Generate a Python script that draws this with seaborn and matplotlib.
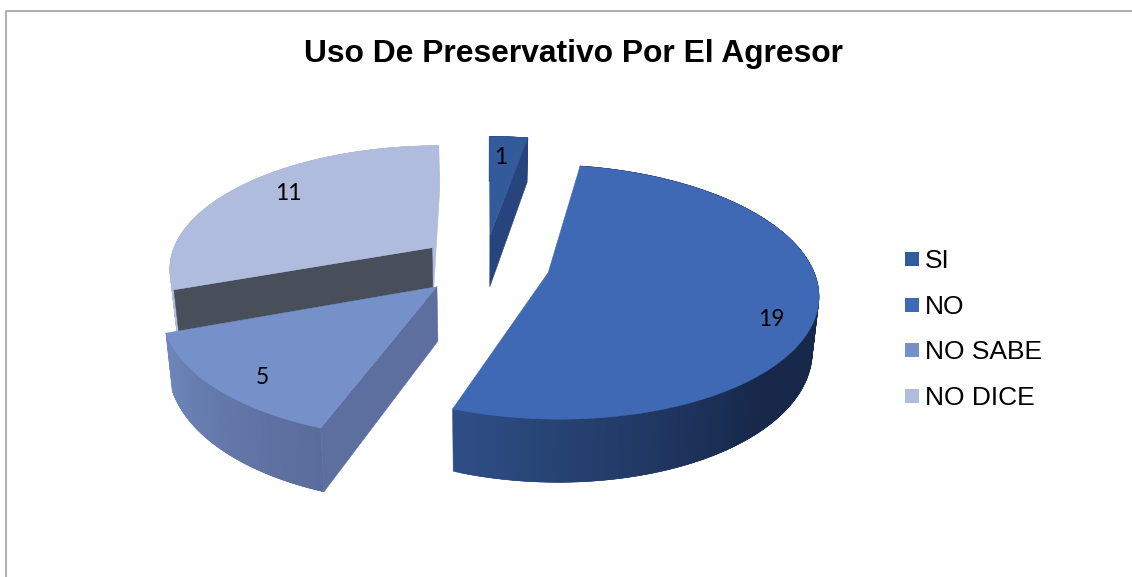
import numpy as np
import seaborn as sns
import matplotlib.pyplot as plt
from matplotlib.patches import Polygon, Rectangle

categorias = ['SI', 'NO', 'NO SABE', 'NO DICE']
valores = [1, 19, 5, 11]

colores_cara = ['#335A9B', '#3F68B5', '#7690CA', '#B0BCDD']
# Tramos del degradado de la pared exterior, en sentido horario
paredes = [['#27457C', '#27457C'],
           ['#17284A', '#17284A', '#17284A', '#2E4F87'],
           ['#5A6C9B', '#6E87BC'],
           ['#B0BCDD', '#B0BCDD']]
# Caras de corte que se ven: (0 = borde inicial, 1 = borde final, color)
cortes = [[(1, '#27457C')],
          [],
          [(0, '#5C6F9E')],
          [(1, '#B0BCDD'), (0, '#484E5A')]]

# Geometria de la torta en pixeles
cx, cy = 484.4, 264.7
rx, ry = 263.5, 122.0
k = 0.15
sep = 0.248
prof = 53.0
fondo = 0.98


def proyectar(u, v, abajo=False):
    w = 1 + k * v
    x = rx * u / w
    y = -ry * v / w
    if abajo:
        return cx + x * fondo, cy + y + prof / w
    return cx + x, cy + y


sns.set_theme(style='white')
plt.rcParams['font.family'] = ['Liberation Sans', 'DejaVu Sans']

fig = plt.figure(figsize=(11.32, 5.77), dpi=100)
ax = fig.add_axes([0, 0, 1, 1])
ax.set_xlim(0, 1132)
ax.set_ylim(577, 0)
ax.axis('off')

# Angulos de cada porcion, en sentido horario desde arriba
total = sum(valores)
fin = np.cumsum(valores) / total * 2 * np.pi
ini = np.concatenate([[0], fin[:-1]])

# Orden de pintado: de atras hacia adelante
for i in [0, 3, 1, 2]:
    medio = (ini[i] + fin[i]) / 2
    u0, v0 = sep * np.sin(medio), sep * np.cos(medio)
    t = np.linspace(ini[i], fin[i], 160)
    us = u0 + np.sin(t)
    vs = v0 + np.cos(t)

    # pared exterior con degradado
    paleta = sns.blend_palette(paredes[i], len(t))
    for j in range(len(t) - 2):
        pts = [proyectar(us[j], vs[j]), proyectar(us[j + 2], vs[j + 2]),
               proyectar(us[j + 2], vs[j + 2], True), proyectar(us[j], vs[j], True)]
        ax.add_patch(Polygon(pts, closed=True, fc=paleta[j], ec=paleta[j], lw=0.4))

    # caras de corte
    for borde, color in cortes[i]:
        ang = fin[i] if borde else ini[i]
        ub, vb = u0 + np.sin(ang), v0 + np.cos(ang)
        pts = [proyectar(u0, v0), proyectar(ub, vb), proyectar(ub, vb, True), proyectar(u0, v0, True)]
        ax.add_patch(Polygon(pts, closed=True, fc=color, ec=color, lw=0.4))

    # cara superior
    pts = [proyectar(u0, v0)] + [proyectar(a, b) for a, b in zip(us, vs)]
    ax.add_patch(Polygon(pts, closed=True, fc=colores_cara[i], ec=colores_cara[i], lw=0.3))

# Etiquetas de datos
pos_etiquetas = [(501, 158), (771, 320), (262, 377), (288, 194)]
for val, (x, y) in zip(valores, pos_etiquetas):
    ax.text(x, y, str(val), ha='center', va='center', fontsize=16.5, color='black', family=['Lato', 'DejaVu Sans'])

# Leyenda
cuadro_y = [259, 305, 350, 396]
base_y = [268, 314, 359, 405]
for nombre, color, yc, yb in zip(categorias, colores_cara, cuadro_y, base_y):
    ax.add_patch(Rectangle((905, yc - 7), 14, 14, fc=color, ec='none'))
    ax.text(925, yb, nombre, ha='left', va='baseline', fontsize=19, color='black')

ax.text(573, 62, 'Uso De Preservativo Por El Agresor', ha='center', va='baseline',
        fontsize=22.9, fontweight='bold', color='black')

# Marco del grafico
ax.plot([5.5, 5.5, 1132], [577, 11, 11], color='#A9A9A9', lw=1.3, solid_capstyle='butt')

plt.savefig('out.png', dpi=100)
plt.close()
